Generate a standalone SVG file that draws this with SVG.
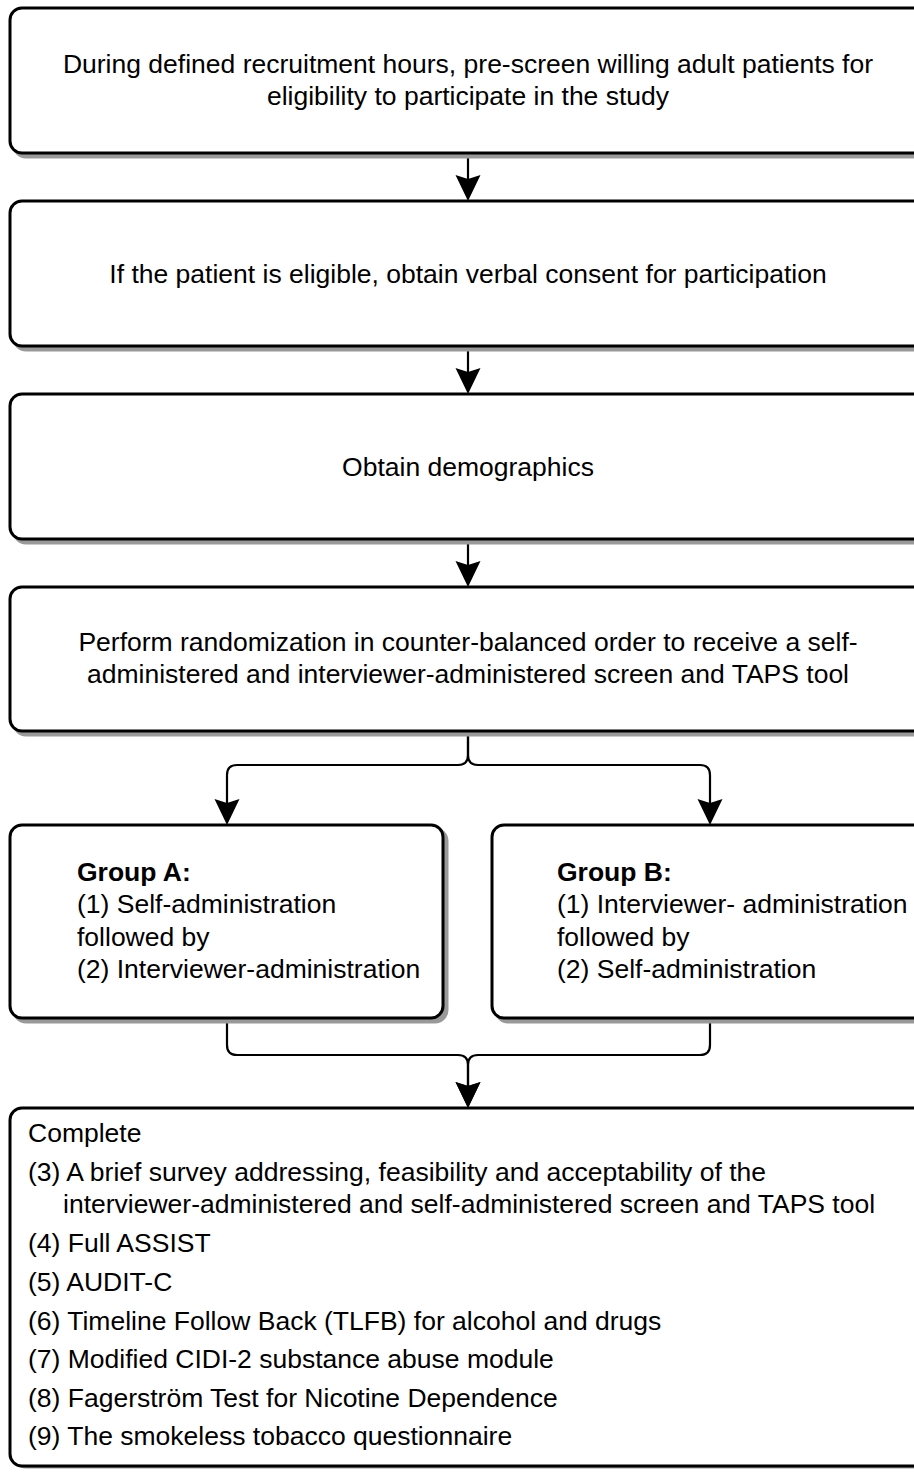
<svg xmlns="http://www.w3.org/2000/svg" width="914" height="1472" viewBox="0 0 914 1472">
<defs>
<style>
.bx{fill:#fff;stroke:#000;stroke-width:3}
.sh{fill:#999;stroke:#999;stroke-width:3}
.t{font-family:"Liberation Sans",Arial,Helvetica,sans-serif;font-size:26.5px;fill:#000}
.c{text-anchor:middle}
.b{font-weight:bold}
.ln{fill:none;stroke:#000;stroke-width:2.2}
</style>
<marker id="ah" viewBox="0 0 26 26" markerWidth="26" markerHeight="26" refX="22" refY="13" orient="auto" markerUnits="userSpaceOnUse">
<path d="M0,0.5 L26,13 L0,25.5 L4,13 Z" fill="#000"/>
</marker>
</defs>
<rect width="914" height="1472" fill="#fff"/>
<g id="connectors">
<path class="ln" d="M468,153 V197" marker-end="url(#ah)"/>
<path class="ln" d="M468,346 V390" marker-end="url(#ah)"/>
<path class="ln" d="M468,539 V583" marker-end="url(#ah)"/>
<path class="ln" d="M468,731 V755 Q468,765 458,765 H237 Q227,765 227,775 V821" marker-end="url(#ah)"/>
<path class="ln" d="M468,731 V755 Q468,765 478,765 H700 Q710,765 710,775 V821" marker-end="url(#ah)"/>
<path class="ln" d="M227,1018 V1045 Q227,1055 237,1055 H458 Q468,1055 468,1065 V1104" marker-end="url(#ah)"/>
<path class="ln" d="M710,1018 V1045 Q710,1055 700,1055 H478 Q468,1055 468,1065 V1104" marker-end="url(#ah)"/>
</g>
<g id="n1">
<rect class="sh" x="14" y="12" width="916" height="145" rx="12"/>
<rect class="bx" x="10" y="8" width="916" height="145" rx="12"/>
<text class="t c" x="468" y="73">During defined recruitment hours, pre-screen willing adult patients for</text>
<text class="t c" x="468" y="105">eligibility to participate in the study</text>
</g>
<g id="n2">
<rect class="sh" x="14" y="205" width="916" height="145" rx="12"/>
<rect class="bx" x="10" y="201" width="916" height="145" rx="12"/>
<text class="t c" x="468" y="283">If the patient is eligible, obtain verbal consent for participation</text>
</g>
<g id="n3">
<rect class="sh" x="14" y="398" width="916" height="145" rx="12"/>
<rect class="bx" x="10" y="394" width="916" height="145" rx="12"/>
<text class="t c" x="468" y="476">Obtain demographics</text>
</g>
<g id="n4">
<rect class="sh" x="14" y="591" width="916" height="144" rx="12"/>
<rect class="bx" x="10" y="587" width="916" height="144" rx="12"/>
<text class="t c" x="468" y="651">Perform randomization in counter-balanced order to receive a self-</text>
<text class="t c" x="468" y="683">administered and interviewer-administered screen and TAPS tool</text>
</g>
<g id="groupA">
<rect class="sh" x="14" y="829" width="433" height="193" rx="12"/>
<rect class="bx" x="10" y="825" width="433" height="193" rx="12"/>
<text class="t b" x="77" y="881">Group A:</text>
<text class="t" x="77" y="913">(1) Self-administration</text>
<text class="t" x="77" y="946">followed by</text>
<text class="t" x="77" y="978">(2) Interviewer-administration</text>
</g>
<g id="groupB">
<rect class="sh" x="496" y="829" width="440" height="193" rx="12"/>
<rect class="bx" x="492" y="825" width="440" height="193" rx="12"/>
<text class="t b" x="557" y="881">Group B:</text>
<text class="t" x="557" y="913">(1) Interviewer- administration</text>
<text class="t" x="557" y="946">followed by</text>
<text class="t" x="557" y="978">(2) Self-administration</text>
</g>
<g id="n7">
<rect class="sh" x="14" y="1112" width="916" height="355" rx="12"/>
<rect class="bx" x="10" y="1108" width="916" height="358" rx="12"/>
<text class="t" x="28" y="1142">Complete</text>
<text class="t" x="28" y="1181">(3) A brief survey addressing, feasibility and acceptability of the</text>
<text class="t" x="63" y="1213">interviewer-administered and self-administered screen and TAPS tool</text>
<text class="t" x="28" y="1252">(4) Full ASSIST</text>
<text class="t" x="28" y="1291">(5) AUDIT-C</text>
<text class="t" x="28" y="1330">(6) Timeline Follow Back (TLFB) for alcohol and drugs</text>
<text class="t" x="28" y="1368">(7) Modified CIDI-2 substance abuse module</text>
<text class="t" x="28" y="1407">(8) Fagerström Test for Nicotine Dependence</text>
<text class="t" x="28" y="1445">(9) The smokeless tobacco questionnaire</text>
</g>
</svg>
